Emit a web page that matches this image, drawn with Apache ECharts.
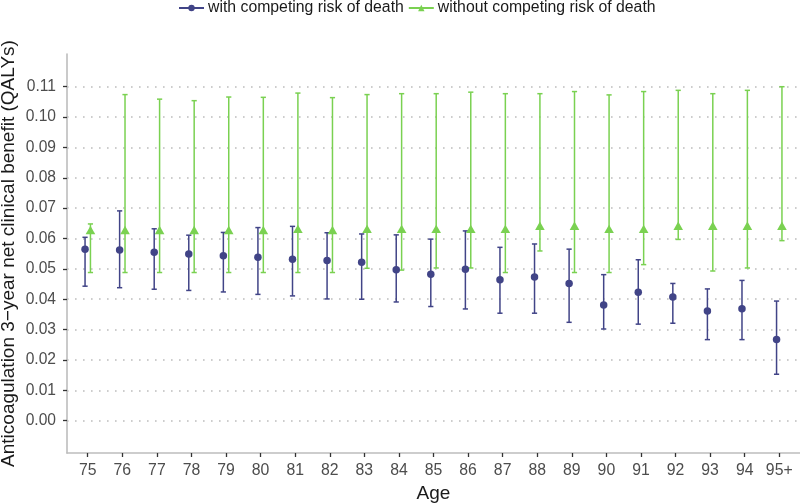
<!DOCTYPE html>
<html>
<head>
<meta charset="utf-8">
<script src="https://cdn.jsdelivr.net/npm/echarts@6/dist/echarts.min.js"></script>
<style>html,body{margin:0;padding:0;background:#fff;overflow:hidden}#c{width:800px;height:504px}</style>
</head>
<body>
<div id="c"></div>
<script>
var ages = ['75','76','77','78','79','80','81','82','83','84','85','86','87','88','89','90','91','92','93','94','95+'];
var withEst   = [0.0565,0.0562,0.0555,0.0549,0.0543,0.0538,0.0532,0.0528,0.0522,0.0497,0.0482,0.0499,0.0464,0.0473,0.0452,0.0381,0.0423,0.0407,0.0361,0.0369,0.0267];
var withLow   = [0.0443,0.0438,0.0433,0.0429,0.0424,0.0416,0.0411,0.0401,0.0400,0.0391,0.0376,0.0368,0.0354,0.0354,0.0324,0.0302,0.0318,0.0321,0.0267,0.0267,0.0153];
var withHigh  = [0.0604,0.0691,0.0632,0.0611,0.0620,0.0636,0.0640,0.0619,0.0615,0.0612,0.0598,0.0625,0.0571,0.0582,0.0565,0.0481,0.0530,0.0452,0.0434,0.0462,0.0394];
var woEst     = [0.0628,0.0628,0.0628,0.0628,0.0628,0.0628,0.0632,0.0628,0.0632,0.0632,0.0632,0.0632,0.0632,0.0642,0.0642,0.0632,0.0632,0.0642,0.0642,0.0642,0.0642];
var woLow     = [0.0488,0.0488,0.0488,0.0488,0.0488,0.0488,0.0488,0.0488,0.0502,0.0496,0.0503,0.0503,0.0488,0.0559,0.0488,0.0488,0.0514,0.0597,0.0493,0.0503,0.0593];
var woHigh    = [0.0648,0.1074,0.1059,0.1054,0.1066,0.1065,0.1079,0.1064,0.1074,0.1077,0.1077,0.1082,0.1077,0.1077,0.1084,0.1073,0.1084,0.1088,0.1077,0.1088,0.1100];
var yTicks = [0,0.01,0.02,0.03,0.04,0.05,0.06,0.07,0.08,0.09,0.10,0.11];
var seriesNames = ['with competing risk of death','without competing risk of death'];

var BLUE = '#414487', GREEN = '#7AD151';
var DODGE = 0.078;
var idx = ages.map(function(_, i){ return i; });

function pts(est, off){ return est.map(function(v,i){ return [i+off, v]; }); }
function bars(lo, hi, off){ return lo.map(function(v,i){ return [i+off, v, hi[i]]; }); }

function errRender(color){
  return function(params, api){
    var x = api.value(0), lo = api.value(1), hi = api.value(2);
    var p1 = api.coord([x, lo]), p2 = api.coord([x, hi]);
    var hw = 2.6;
    var st = {stroke: color, lineWidth: 1.5};
    return {type:'group', children:[
      {type:'line', shape:{x1:p1[0],y1:p1[1],x2:p2[0],y2:p2[1]}, style:st},
      {type:'line', shape:{x1:p1[0]-hw,y1:p1[1],x2:p1[0]+hw,y2:p1[1]}, style:st},
      {type:'line', shape:{x1:p2[0]-hw,y1:p2[1],x2:p2[0]+hw,y2:p2[1]}, style:st}
    ]};
  };
}

var chart = echarts.init(document.getElementById('c'), null, {renderer:'canvas'});
var FONT = 'Liberation Sans';
chart.setOption({
  animation:false,
  textStyle:{fontFamily:FONT},
  legend:{
    top:0, left:178, padding:0, itemWidth:25, itemHeight:8, itemGap:4,
    textStyle:{fontSize:15.8, color:'#1a1a1a', fontFamily:FONT, padding:[0,0,0,-1]},
    data:[
      {name:seriesNames[0], lineStyle:{color:BLUE, width:2, opacity:1}, itemStyle:{color:BLUE}},
      {name:seriesNames[1], lineStyle:{color:GREEN, width:2, opacity:1}, itemStyle:{color:GREEN}}
    ]
  },
  grid:{left:67, right:0, top:54, bottom:51, containLabel:false, outerBoundsMode:'none'},
  xAxis:{
    type:'value', min:-0.6, max:ages.length-0.4,
    name:'Age', nameLocation:'middle', nameGap:31, nameMoveOverlap:false,
    nameTextStyle:{fontSize:19, color:'#1a1a1a', fontFamily:FONT},
    axisLine:{show:true, onZero:false, lineStyle:{color:'#bdbdbd', width:1.6}},
    axisTick:{show:true, customValues:idx, length:4, lineStyle:{color:'#333', width:1.3}},
    axisLabel:{customValues:idx, formatter:function(v){ return ages[Math.round(v)]; }, fontSize:15.8, color:'#4d4d4d', margin:10, fontFamily:FONT},
    splitLine:{show:false}
  },
  yAxis:{
    type:'value', min:-0.01064, max:0.12077,
    name:'Anticoagulation 3\u2212year net clinical benefit (QALYs)', nameLocation:'middle', nameGap:49, nameMoveOverlap:false,
    nameTextStyle:{fontSize:19, color:'#1a1a1a', fontFamily:FONT},
    axisLine:{show:true, onZero:false, lineStyle:{color:'#bdbdbd', width:1.6}},
    axisTick:{show:true, customValues:yTicks, length:4, lineStyle:{color:'#333', width:1.3}},
    axisLabel:{customValues:yTicks, formatter:function(v){ return v.toFixed(2); }, fontSize:15.6, color:'#4d4d4d', margin:11, fontFamily:FONT},
    splitLine:{show:true, lineStyle:{color:'#bdbdbd', width:1.6, type:[1.6,6.4]}}
  },
  series:[
    {type:'custom', name:'err1', renderItem:errRender(BLUE), data:bars(withLow, withHigh, -DODGE), encode:{x:0,y:[1,2]}, z:2, silent:true},
    {type:'custom', name:'err2', renderItem:errRender(GREEN), data:bars(woLow, woHigh, DODGE), encode:{x:0,y:[1,2]}, z:2, silent:true},
    {type:'line', name:seriesNames[0], color:BLUE, data:pts(withEst, -DODGE), symbol:'circle', symbolSize:7.5, showSymbol:true,
      lineStyle:{color:BLUE, width:0, opacity:0}, itemStyle:{color:BLUE, borderWidth:0}, z:3},
    {type:'line', name:seriesNames[1], color:GREEN, data:pts(woEst, DODGE), symbol:'triangle', symbolSize:[9.6,8.3], showSymbol:true,
      lineStyle:{color:GREEN, width:0, opacity:0}, itemStyle:{color:GREEN, borderWidth:0}, z:3}
  ]
});
</script>
</body>
</html>
